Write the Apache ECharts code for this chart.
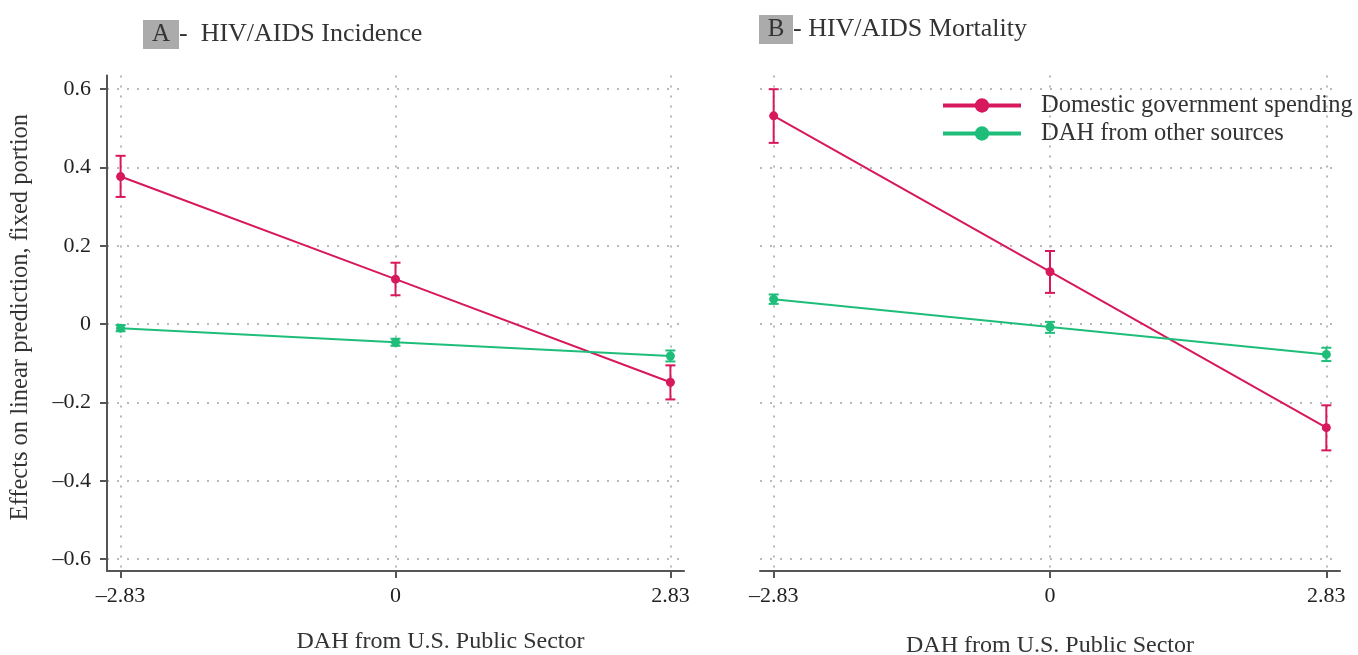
<!DOCTYPE html>
<html>
<head>
<meta charset="utf-8">
<script src="https://cdn.jsdelivr.net/npm/echarts@6/dist/echarts.min.js"></script>
<style>
html,body{margin:0;padding:0;background:#fff;}
#c{width:1358px;height:655px;}
</style>
</head>
<body>
<div id="c"></div>
<script>
// ---- data ----
const xValues = [-2.83, 0, 2.83];
const xTickLabels = ['\u20132.83', '0', '2.83'];
const yTicks = [-0.6, -0.4, -0.2, 0, 0.2, 0.4, 0.6];
const yTickLabels = ['\u20130.6', '\u20130.4', '\u20130.2', '0', '0.2', '0.4', '0.6'];
const seriesNames = ['Domestic government spending', 'DAH from other sources'];

// Panel A: HIV/AIDS Incidence
const aDomestic   = [0.377, 0.115, -0.148];
const aDomesticLo = [0.325, 0.074, -0.192];
const aDomesticHi = [0.430, 0.157, -0.105];
const aOther      = [-0.010, -0.046, -0.081];
const aOtherLo    = [-0.018, -0.055, -0.095];
const aOtherHi    = [-0.002, -0.037, -0.067];

// Panel B: HIV/AIDS Mortality
const bDomestic   = [0.532, 0.134, -0.264];
const bDomesticLo = [0.463, 0.080, -0.322];
const bDomesticHi = [0.600, 0.187, -0.207];
const bOther      = [0.064, -0.007, -0.077];
const bOtherLo    = [0.052, -0.022, -0.094];
const bOtherHi    = [0.076, 0.006, -0.060];

const RED = '#D7185C';
const GREEN = '#1EBE7A';
const FONT = 'Liberation Serif';

function pts(vals){ return xValues.map((x,i)=>[x, vals[i]]); }
function bars(lo, hi){ return xValues.map((x,i)=>[x, lo[i], hi[i]]); }

function errSeries(lo, hi, color, gi){
  return {
    type: 'custom', xAxisIndex: gi, yAxisIndex: gi, z: 3, silent: true,
    data: bars(lo, hi),
    renderItem: function(params, api){
      const x = api.value(0);
      const p1 = api.coord([x, api.value(1)]);
      const p2 = api.coord([x, api.value(2)]);
      const w = 5;
      const st = {stroke: color, lineWidth: 2};
      return {type: 'group', children: [
        {type: 'line', shape: {x1: p1[0], y1: p1[1], x2: p2[0], y2: p2[1]}, style: st},
        {type: 'line', shape: {x1: p1[0]-w, y1: p1[1], x2: p1[0]+w, y2: p1[1]}, style: st},
        {type: 'line', shape: {x1: p2[0]-w, y1: p2[1], x2: p2[0]+w, y2: p2[1]}, style: st}
      ]};
    }
  };
}
function lineSeries(name, vals, color, gi){
  return {
    name: name, type: 'line', xAxisIndex: gi, yAxisIndex: gi, z: 4,
    data: pts(vals), symbol: 'circle', symbolSize: 9,
    lineStyle: {color: color, width: 2}, itemStyle: {color: color},
    emphasis: {disabled: true}, animation: false
  };
}

const dotted = {color: '#b8b8b8', width: 2, type: [2, 8]};

function xAxis(gi, name, gap, shift){
  return {
    type: 'value', gridIndex: gi, min: -2.97, max: 2.97,
    name: name, nameLocation: 'middle', nameGap: gap,
    nameTextStyle: {fontFamily: FONT, fontSize: 24, color: '#333', padding: [0, 0, 0, shift]},
    axisLine: {show: true, onZero: false, lineStyle: {color: '#555', width: 2}},
    axisTick: {show: true, length: 7, lineStyle: {color: '#555', width: 2}, customValues: xValues},
    axisLabel: {customValues: xValues, fontFamily: FONT, fontSize: 22, color: '#222', margin: 14,
      formatter: v => xTickLabels[xValues.indexOf(v)] ?? ''},
    splitLine: {show: true, lineStyle: dotted}
  };
}
function yAxis(gi, show){
  return {
    type: 'value', gridIndex: gi, min: -0.63, max: 0.635,
    name: show ? 'Effects on linear prediction, fixed portion' : '',
    nameLocation: 'middle', nameRotate: 90, nameGap: 74,
    nameTextStyle: {fontFamily: FONT, fontSize: 24.5, color: '#333', padding: [0, 0, 0, 12]},
    axisLine: {show: show, onZero: false, lineStyle: {color: '#555', width: 2}},
    axisTick: {show: show, length: 7, lineStyle: {color: '#555', width: 2}, customValues: yTicks},
    axisLabel: {show: show, customValues: yTicks, fontFamily: FONT, fontSize: 22, color: '#222', margin: 16,
      formatter: v => { const i = yTicks.findIndex(t => Math.abs(t - v) < 1e-9); return i >= 0 ? yTickLabels[i] : ''; }},
    splitLine: {show: true, lineStyle: dotted}
  };
}

const chart = echarts.init(document.getElementById('c'), null, {renderer: 'canvas'});
chart.setOption({
  animation: false,
  backgroundColor: '#fff',
  title: [
    {left: 143, top: 20, padding: 0, text: '{b|A}{t|-  HIV/AIDS Incidence}',
     textStyle: {rich: {
       b: {backgroundColor: '#ABABAB', width: 36, height: 29, align: 'center', fontFamily: FONT, fontSize: 25, fontWeight: 'normal', color: '#333', lineHeight: 29},
       t: {fontFamily: FONT, fontSize: 26, fontWeight: 'normal', color: '#333', lineHeight: 29}
     }}},
    {left: 759, top: 15, padding: 0, text: '{b|B}{t|- HIV/AIDS Mortality}',
     textStyle: {rich: {
       b: {backgroundColor: '#ABABAB', width: 34, height: 29, align: 'center', fontFamily: FONT, fontSize: 25, fontWeight: 'normal', color: '#333', lineHeight: 29},
       t: {fontFamily: FONT, fontSize: 26, fontWeight: 'normal', color: '#333', lineHeight: 29}
     }}}
  ],
  legend: {
    data: seriesNames, orient: 'vertical', left: 941, top: 93, padding: 0,
    itemWidth: 78, itemHeight: 18, itemGap: 3,
    lineStyle: {width: 4},
    textStyle: {fontFamily: FONT, fontSize: 24.5, color: '#333', padding: [0, 0, 0, 15]},
    selectedMode: false
  },
  grid: [
    {left: 107, top: 75.5, width: 577, height: 495.5, outerBoundsMode: 'none', containLabel: false},
    {left: 760, top: 75.5, width: 580, height: 495.5, outerBoundsMode: 'none', containLabel: false}
  ],
  xAxis: [xAxis(0, 'DAH from U.S. Public Sector', 59, 90), xAxis(1, 'DAH from U.S. Public Sector', 63, 0)],
  yAxis: [yAxis(0, true), yAxis(1, false)],
  series: [
    errSeries(aDomesticLo, aDomesticHi, RED, 0),
    errSeries(aOtherLo, aOtherHi, GREEN, 0),
    lineSeries(seriesNames[0], aDomestic, RED, 0),
    lineSeries(seriesNames[1], aOther, GREEN, 0),
    errSeries(bDomesticLo, bDomesticHi, RED, 1),
    errSeries(bOtherLo, bOtherHi, GREEN, 1),
    lineSeries(seriesNames[0], bDomestic, RED, 1),
    lineSeries(seriesNames[1], bOther, GREEN, 1)
  ]
});
</script>
</body>
</html>
